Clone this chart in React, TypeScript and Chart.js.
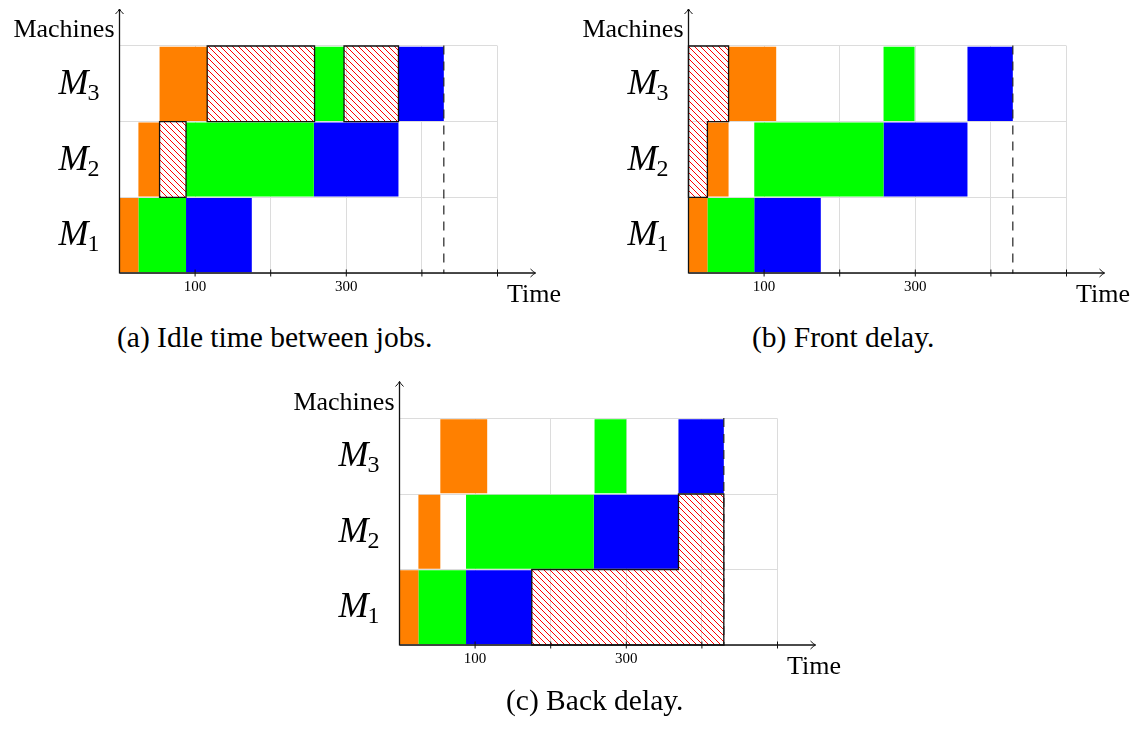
import React, { useEffect, useRef } from 'react';
import { Chart, registerables } from 'chart.js';

Chart.register(...registerables);

// ---------------- data ----------------
const machineLabels = ['M3', 'M2', 'M1']; // rows, top to bottom
const machineSubscripts = ['3', '2', '1'];
const jobMachines = ['M1', 'M2', 'M3']; // order of the [start, end] pairs below
const timeTickValues = [100, 200, 300, 400, 500];
const timeTickLabels = ['100', '', '300', '', ''];
const timeMax = 500;
const xAxisTitle = 'Time';
const yAxisTitle = 'Machines';

// (a) Idle time between jobs
const aOrange = [[0, 25], [25, 53], [53, 116]];
const aGreen = [[25, 88], [88, 257], [258, 297]];
const aBlue = [[88, 175], [257, 369], [369, 429]];
const aDelayMachine = ['M2', 'M3', 'M3'];
const aDelayStart = [53, 116, 297];
const aDelayEnd = [88, 258, 369];
const aDelayGroup = [0, 1, 2];
const aMakespan = 429;

// (b) Front delay
const bOrange = [[0, 25], [25, 53], [53, 116]];
const bGreen = [[25, 87], [87, 258], [258, 299]];
const bBlue = [[87, 175], [258, 369], [369, 429]];
const bDelayMachine = ['M2', 'M3'];
const bDelayStart = [0, 0];
const bDelayEnd = [25, 53];
const bDelayGroup = [0, 0];
const bMakespan = 429;

// (c) Back delay
const cOrange = [[0, 25], [25, 54], [54, 116]];
const cGreen = [[25, 88], [88, 257], [258, 300]];
const cBlue = [[88, 175], [257, 369], [369, 429]];
const cDelayMachine = ['M1', 'M2'];
const cDelayStart = [175, 369];
const cDelayEnd = [429, 429];
const cDelayGroup = [0, 0];
const cMakespan = 429;

const captions = ['(a) Idle time between jobs.', '(b) Front delay.', '(c) Back delay.'];

// ---------------- styles ----------------
const ORANGE = '#ff8000';
const GREEN = '#00ff00';
const BLUE = '#0000ff';
const HATCH = '#ff0000';
const GRID = '#dcdcdc';
const INK = '#111111';
const SERIF = '"Liberation Serif", "DejaVu Serif", serif';

type Spec = {
  left: number; top: number; width: number; height: number;
  area: { left: number; top: number; right: number; bottom: number };
  orange: number[][]; green: number[][]; blue: number[][];
  delayMachine: string[]; delayStart: number[]; delayEnd: number[]; delayGroup: number[];
  makespan: number;
};

const specs: Spec[] = [
  {
    left: 0, top: 0, width: 570, height: 318,
    area: { left: 119.5, top: 46, right: 497.5, bottom: 273 },
    orange: aOrange, green: aGreen, blue: aBlue,
    delayMachine: aDelayMachine, delayStart: aDelayStart, delayEnd: aDelayEnd, delayGroup: aDelayGroup,
    makespan: aMakespan,
  },
  {
    left: 570, top: 0, width: 569, height: 318,
    area: { left: 118.5, top: 46, right: 496.5, bottom: 273 },
    orange: bOrange, green: bGreen, blue: bBlue,
    delayMachine: bDelayMachine, delayStart: bDelayStart, delayEnd: bDelayEnd, delayGroup: bDelayGroup,
    makespan: bMakespan,
  },
  {
    left: 280, top: 372, width: 570, height: 318,
    area: { left: 119.5, top: 46.5, right: 497.5, bottom: 273 },
    orange: cOrange, green: cGreen, blue: cBlue,
    delayMachine: cDelayMachine, delayStart: cDelayStart, delayEnd: cDelayEnd, delayGroup: cDelayGroup,
    makespan: cMakespan,
  },
];

const captionPos = [
  { left: 117, top: 321 },
  { left: 752, top: 321 },
  { left: 506, top: 684 },
];

function makeHatch(): CanvasPattern | string {
  const s = 6;
  const c = document.createElement('canvas');
  c.width = s; c.height = s;
  const g = c.getContext('2d');
  if (!g) return HATCH;
  g.clearRect(0, 0, s, s);
  g.fillStyle = HATCH;
  for (let i = 0; i < s; i++) g.fillRect(i, i, 1, 1);
  return g.createPattern(c, 'repeat') || HATCH;
}

function Gantt({ spec }: { spec: Spec }) {
  const ref = useRef<HTMLCanvasElement | null>(null);
  useEffect(() => {
    const canvas = ref.current;
    if (!canvas) return;
    const jobs = [
      { arr: spec.orange, color: ORANGE },
      { arr: spec.green, color: GREEN },
      { arr: spec.blue, color: BLUE },
    ];
    const jobDatasets = jobs.map(({ arr, color }) => ({
      data: arr.map((r, i) => ({ y: jobMachines[i], x: r })),
      backgroundColor: color,
      borderWidth: 0,
      grouped: false,
      barPercentage: 0.98,
      categoryPercentage: 1,
    }));
    const delayDatasets = spec.delayMachine.map((m, i) => ({
      data: [{ y: m, x: [spec.delayStart[i], spec.delayEnd[i]] }],
      backgroundColor: makeHatch(),
      borderWidth: 0,
      grouped: false,
      barPercentage: 1,
      categoryPercentage: 1,
    }));

    const overlay = {
      id: 'ganttOverlay',
      afterDatasetsDraw(chart: any) {
        const { ctx, chartArea: a } = chart;
        const xs = chart.scales.x;
        const ys = chart.scales.y;
        const rowH = (a.bottom - a.top) / machineLabels.length;
        ctx.save();
        // outlines of delay groups (union outline)
        const groups = Array.from(new Set(spec.delayGroup));
        ctx.strokeStyle = INK;
        ctx.lineWidth = 1.3;
        ctx.lineCap = 'square';
        groups.forEach((gid) => {
          const rects: { x0: number; x1: number; y0: number; y1: number }[] = [];
          spec.delayGroup.forEach((g, i) => {
            if (g !== gid) return;
            const yc = ys.getPixelForValue(machineLabels.indexOf(spec.delayMachine[i]));
            rects.push({
              x0: xs.getPixelForValue(spec.delayStart[i]),
              x1: xs.getPixelForValue(spec.delayEnd[i]),
              y0: yc - rowH / 2,
              y1: yc + rowH / 2,
            });
          });
          const edges = new Map<number, number[][]>();
          const add = (yy: number, seg: number[]) => {
            const k = Math.round(yy * 10) / 10;
            if (!edges.has(k)) edges.set(k, []);
            edges.get(k)!.push(seg);
          };
          ctx.beginPath();
          rects.forEach((r) => {
            add(r.y0, [r.x0, r.x1]);
            add(r.y1, [r.x0, r.x1]);
            ctx.moveTo(r.x0, r.y0); ctx.lineTo(r.x0, r.y1);
            ctx.moveTo(r.x1, r.y0); ctx.lineTo(r.x1, r.y1);
          });
          edges.forEach((list, yy) => {
            const pts = Array.from(new Set(list.flat())).sort((p, q) => p - q);
            for (let k = 0; k < pts.length - 1; k++) {
              const mid = (pts[k] + pts[k + 1]) / 2;
              const cnt = list.filter(([p, q]) => mid > p && mid < q).length;
              if (cnt % 2 === 1) { ctx.moveTo(pts[k], yy); ctx.lineTo(pts[k + 1], yy); }
            }
          });
          ctx.stroke();
        });
        // makespan dashed line
        const mx = xs.getPixelForValue(spec.makespan);
        ctx.setLineDash([8, 8]);
        ctx.lineWidth = 1.2;
        ctx.strokeStyle = '#222';
        ctx.beginPath();
        ctx.moveTo(mx, a.top); ctx.lineTo(mx, a.bottom);
        ctx.stroke();
        ctx.setLineDash([]);
        // axes with arrows
        ctx.strokeStyle = INK;
        ctx.lineWidth = 1.3;
        ctx.lineCap = 'butt';
        const tipX = a.right + 38;
        const tipY = a.top - 37;
        ctx.beginPath();
        ctx.moveTo(a.left, a.bottom); ctx.lineTo(tipX, a.bottom);
        ctx.moveTo(a.left, a.bottom + 0.6); ctx.lineTo(a.left, tipY);
        ctx.stroke();
        ctx.lineWidth = 1;
        ctx.beginPath();
        ctx.moveTo(tipX - 5, a.bottom - 4); ctx.quadraticCurveTo(tipX - 2, a.bottom - 1, tipX, a.bottom);
        ctx.quadraticCurveTo(tipX - 2, a.bottom + 1, tipX - 5, a.bottom + 4);
        ctx.moveTo(a.left - 4, tipY + 5); ctx.quadraticCurveTo(a.left - 1, tipY + 2, a.left, tipY);
        ctx.quadraticCurveTo(a.left + 1, tipY + 2, a.left + 4, tipY + 5);
        ctx.stroke();
        // tick marks crossing the time axis
        ctx.lineWidth = 1;
        ctx.beginPath();
        timeTickValues.forEach((v) => {
          const px = xs.getPixelForValue(v);
          ctx.moveTo(px, a.bottom - 3.5); ctx.lineTo(px, a.bottom + 3.5);
        });
        ctx.stroke();
        // axis titles
        ctx.fillStyle = '#000';
        ctx.font = `26px ${SERIF}`;
        ctx.textBaseline = 'alphabetic';
        ctx.textAlign = 'right';
        ctx.fillText(yAxisTitle, a.left - 5, a.top - 9);
        ctx.textAlign = 'left';
        ctx.fillText(xAxisTitle, a.right + 9.5, a.bottom + 29);
        // machine labels M_i
        machineLabels.forEach((_, i) => {
          const yc = ys.getPixelForValue(i);
          ctx.font = `24px ${SERIF}`;
          const sw = ctx.measureText(machineSubscripts[i]).width;
          const right = a.left - 20;
          ctx.textAlign = 'left';
          ctx.fillText(machineSubscripts[i], right - sw, yc + 16);
          ctx.font = `italic 36px ${SERIF}`;
          const mw = ctx.measureText('M').width;
          ctx.fillText('M', right - sw - mw + 1, yc + 10);
        });
        ctx.restore();
      },
    };

    const chart = new Chart(canvas, {
      type: 'bar',
      data: { labels: machineLabels, datasets: [...jobDatasets, ...delayDatasets] as any },
      options: {
        indexAxis: 'y',
        responsive: false,
        animation: false,
        layout: {
          padding: {
            left: spec.area.left,
            top: spec.area.top,
            right: spec.width - spec.area.right,
            bottom: 0,
          },
        },
        plugins: { legend: { display: false }, tooltip: { enabled: false } },
        scales: {
          x: {
            type: 'linear',
            min: 0,
            max: timeMax,
            border: { display: false },
            grid: { color: GRID, lineWidth: 1, drawTicks: false },
            ticks: {
              stepSize: 100,
              padding: 5,
              color: '#000',
              font: { family: SERIF, size: 15 },
              autoSkip: false,
              maxRotation: 0,
              callback: (v: any) => {
                const i = timeTickValues.indexOf(Number(v));
                return i >= 0 ? timeTickLabels[i] : '';
              },
            },
            afterFit: (s: any) => { s.height = spec.height - spec.area.bottom; },
          },
          y: {
            type: 'category',
            offset: true,
            border: { display: false },
            grid: { color: GRID, lineWidth: 1, offset: true, drawTicks: false },
            ticks: { display: false },
            afterFit: (s: any) => { s.width = 0; },
          },
        },
      } as any,
      plugins: [overlay],
    });
    return () => chart.destroy();
  }, [spec]);
  return (
    <canvas
      ref={ref}
      width={spec.width}
      height={spec.height}
      style={{ position: 'absolute', left: spec.left, top: spec.top, width: spec.width, height: spec.height }}
    />
  );
}

export default function App() {
  return (
    <div style={{ position: 'absolute', left: 0, top: 0, width: 1139, height: 731, background: '#fff', overflow: 'hidden' }}>
      {specs.map((s, i) => <Gantt key={i} spec={s} />)}
      {captions.map((c, i) => (
        <div
          key={c}
          style={{
            position: 'absolute', left: captionPos[i].left, top: captionPos[i].top,
            fontFamily: SERIF, fontSize: 29.5, lineHeight: '32px', whiteSpace: 'nowrap', color: '#000',
          }}
        >
          {c}
        </div>
      ))}
    </div>
  );
}
